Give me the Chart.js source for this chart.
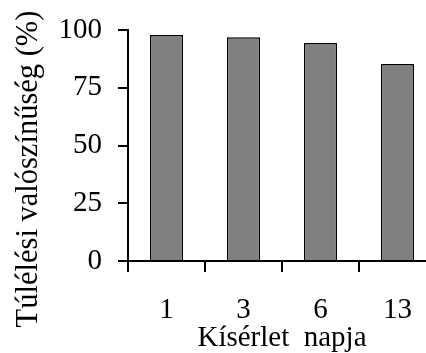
<!DOCTYPE html>
<html>
<head>
<meta charset="utf-8">
<script src="https://cdn.jsdelivr.net/npm/chart.js@4"></script>
<style>
    html, body { margin: 0; padding: 0; background: #fff; overflow: hidden; }
    #wrap { width: 426px; height: 353px; overflow: hidden; }
</style>
</head>
<body>
<div id="wrap">
    <canvas id="survivalChart" width="446" height="353"></canvas>
</div>
<script>
const days = ["1", "3", "6", "13"];
const survival = [97.8, 96.9, 94.4, 85.3];
const yTicks = [0, 25, 50, 75, 100];
const xTitle = "Kísérlet  napja";
const yTitle = "Túlélési valószínűség (%)";

const FONT = "'Liberation Serif', 'Times New Roman', serif";

// y title drawn by hand so it can sit where the original has it
const yTitlePlugin = {
    id: "yTitle",
    afterDraw(chart) {
        const c = chart.ctx;
        c.save();
        c.translate(37, 169);
        c.rotate(-Math.PI / 2);
        c.font = "30.5px " + FONT;
        c.fillStyle = "#000";
        c.textAlign = "center";
        c.textBaseline = "alphabetic";
        c.fillText(yTitle, 0, 0);
        c.restore();
    }
};

const ctx = document.getElementById("survivalChart");

new Chart(ctx, {
    type: "bar",
    data: {
        labels: days,
        datasets: [{
            data: survival,
            backgroundColor: "#808080",
            borderColor: "#000",
            borderWidth: 1.5,
            barPercentage: 0.43,
            categoryPercentage: 1
        }]
    },
    options: {
        responsive: false,
        animation: false,
        layout: { padding: { top: 30, right: 10, left: 0, bottom: 0 } },
        plugins: {
            legend: { display: false },
            tooltip: { enabled: false }
        },
        scales: {
            x: {
                afterFit(scale) { scale.height = 92; },
                grid: {
                    drawOnChartArea: false,
                    drawTicks: true,
                    tickLength: 11,
                    color: "#000",
                    lineWidth: 2
                },
                border: { display: true, color: "#000", width: 2 },
                ticks: {
                    color: "#000",
                    padding: 21,
                    font: { family: FONT, size: 29 }
                },
                title: {
                    display: true,
                    text: xTitle,
                    color: "#000",
                    padding: { top: 0, bottom: 0 },
                    font: { family: FONT, size: 29, lineHeight: 1.0 }
                }
            },
            y: {
                min: 0,
                max: 100,
                afterFit(scale) {
                    scale.width = 128;
                    scale.paddingTop = 0;
                    scale.paddingBottom = 0;
                },
                afterBuildTicks(scale) {
                    scale.ticks = yTicks.map(v => ({ value: v }));
                },
                grid: {
                    drawOnChartArea: false,
                    drawTicks: true,
                    tickLength: 10,
                    color: "#000",
                    lineWidth: 2
                },
                border: { display: true, color: "#000", width: 2 },
                ticks: {
                    color: "#000",
                    padding: 16,
                    font: { family: FONT, size: 29 }
                }
            }
        }
    },
    plugins: [yTitlePlugin]
});
</script>
</body>
</html>
